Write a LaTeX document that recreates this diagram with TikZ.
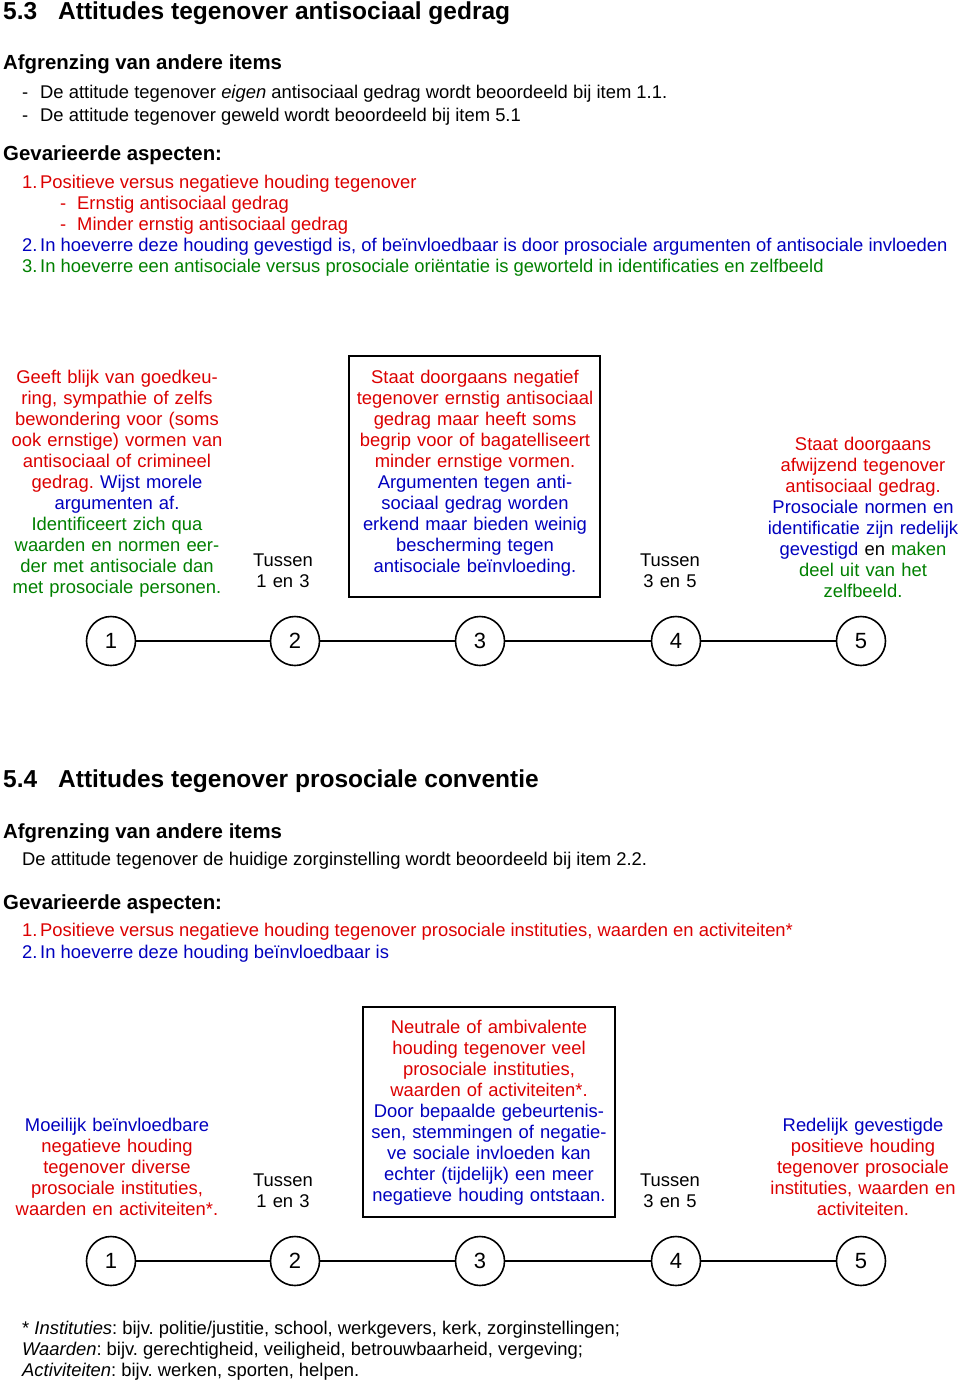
\documentclass[tikz,border=0pt]{standalone}
\usepackage{fontspec}
\setmainfont{Liberation Sans}
\usetikzlibrary{positioning}
\definecolor{rood}{RGB}{220,0,0}
\definecolor{blauw}{RGB}{0,0,190}
\definecolor{groen}{RGB}{0,128,0}
\setlength{\parindent}{0pt}
\frenchspacing

\begin{document}
\begin{tikzpicture}[x=1pt, y=-1pt,
    every node/.style={inner sep=0pt},
    titel/.style={anchor=base west, font=\fontsize{24.5}{28}\selectfont\bfseries},
    kop/.style={anchor=base west, font=\fontsize{20.4}{24}\selectfont\bfseries},
    regel/.style={anchor=base west, font=\fontsize{18.4}{21}\selectfont},
    omschr/.style={anchor=north, align=center, text width=250pt, font=\fontsize{18.4}{21}\selectfont},
    kader/.style={draw, line width=1.6pt},
    punt/.style={circle, draw, line width=1.6pt, minimum size=49pt, fill=white, font=\fontsize{22}{26}\selectfont},
    lijn/.style={line width=1.4pt}]
            \useasboundingbox[fill=white] (0,0) rectangle (960,1380);

            % 5.3
            \node[titel] at (3, 20)    (titel53) {\makebox[55pt][l]{5.3}Attitudes tegenover antisociaal gedrag};
            \node[kop]   at (3, 70)    (afgr53)  {Afgrenzing van andere items};
            \node[regel] at (22, 98.2)  (afgr53a) {\makebox[18pt][l]{-}De attitude tegenover \textit{eigen} antisociaal gedrag wordt beoordeeld bij item 1.1.};
            \node[regel] at (22, 121.2) (afgr53b) {\makebox[18pt][l]{-}De attitude tegenover geweld wordt beoordeeld bij item 5.1};
            \node[kop]   at (3, 160.8) (asp53)   {Gevarieerde aspecten:};
            \node[regel, rood]  at (22, 188.2) (asp53a) {\makebox[18pt][l]{1.}Positieve versus negatieve houding tegenover};
            \node[regel, rood]  at (60, 209.2) (asp53b) {\makebox[17pt][l]{-}Ernstig antisociaal gedrag};
            \node[regel, rood]  at (60, 230.2) (asp53c) {\makebox[17pt][l]{-}Minder ernstig antisociaal gedrag};
            \node[regel, blauw] at (22, 251.2) (asp53d) {\makebox[18pt][l]{2.}In hoeverre deze houding gevestigd is, of beïnvloedbaar is door prosociale argumenten of antisociale invloeden};
            \node[regel, groen] at (22, 272.2) (asp53e) {\makebox[18pt][l]{3.}In hoeverre een antisociale versus prosociale oriëntatie is geworteld in identificaties en zelfbeeld};

            \node[kader, minimum width=251pt, minimum height=241pt] at (474.5, 476.5) (box53) {};
            \node[omschr] at (117, 368.5) (tekst53a) {\strut\color{rood}Geeft blijk van goedkeu-\\ring, sympathie of zelfs\\bewondering voor (soms\\ook ernstige) vormen van\\antisociaal of crimineel\\gedrag. \color{blauw}Wijst morele\\argumenten af.\\\color{groen}Identificeert zich qua\\waarden en normen eer-\\der met antisociale dan\\met prosociale personen.};
            \node[omschr, text width=90pt] at (283, 551.5) (tekst53b) {\strut Tussen\\1 en 3};
            \node[omschr] at (475, 368.5) (tekst53c) {\strut\color{rood}Staat doorgaans negatief\\tegenover ernstig antisociaal\\gedrag maar heeft soms\\begrip voor of bagatelliseert\\minder ernstige vormen.\\\color{blauw}Argumenten tegen anti-\\sociaal gedrag worden\\erkend maar bieden weinig\\bescherming tegen\\antisociale beïnvloeding.};
            \node[omschr, text width=90pt] at (670, 551.5) (tekst53d) {\strut Tussen\\3 en 5};
            \node[omschr, text width=230pt] at (863, 435.5) (tekst53e) {\strut\color{rood}Staat doorgaans\\afwijzend tegenover\\antisociaal gedrag.\\\color{blauw}Prosociale normen en\\identificatie zijn redelijk\\gevestigd \color{black}en \color{groen}maken\\deel uit van het\\zelfbeeld.};

            \node[punt] at (111, 641) (p53a) {1};
            \node[punt] at (295, 641) (p53b) {2};
            \node[punt] at (480, 641) (p53c) {3};
            \node[punt] at (676, 641) (p53d) {4};
            \node[punt] at (861, 641) (p53e) {5};

            \draw [lijn] (p53a) -- (p53b);
            \draw [lijn] (p53b) -- (p53c);
            \draw [lijn] (p53c) -- (p53d);
            \draw [lijn] (p53d) -- (p53e);

            % 5.4
            \node[titel] at (3, 787)   (titel54) {\makebox[55pt][l]{5.4}Attitudes tegenover prosociale conventie};
            \node[kop]   at (3, 838)   (afgr54)  {Afgrenzing van andere items};
            \node[regel] at (22, 865.2) (afgr54a) {De attitude tegenover de huidige zorginstelling wordt beoordeeld bij item 2.2.};
            \node[kop]   at (3, 909.8) (asp54)   {Gevarieerde aspecten:};
            \node[regel, rood]  at (22, 936.2) (asp54a) {\makebox[18pt][l]{1.}Positieve versus negatieve houding tegenover prosociale instituties, waarden en activiteiten*};
            \node[regel, blauw] at (22, 958.2) (asp54b) {\makebox[18pt][l]{2.}In hoeverre deze houding beïnvloedbaar is};

            \node[kader, minimum width=252pt, minimum height=210pt] at (489, 1112) (box54) {};
            \node[omschr] at (117, 1116.5) (tekst54a) {\strut\color{blauw}Moeilijk beïnvloedbare\\\color{rood}negatieve houding\\tegenover diverse\\prosociale instituties,\\waarden en activiteiten*.};
            \node[omschr, text width=90pt] at (283, 1171.5) (tekst54b) {\strut Tussen\\1 en 3};
            \node[omschr] at (489, 1018.5) (tekst54c) {\strut\color{rood}Neutrale of ambivalente\\houding tegenover veel\\prosociale instituties,\\waarden of activiteiten*.\\\color{blauw}Door bepaalde gebeurtenis-\\sen, stemmingen of negatie-\\ve sociale invloeden kan\\echter (tijdelijk) een meer\\negatieve houding ontstaan.};
            \node[omschr, text width=90pt] at (670, 1171.5) (tekst54d) {\strut Tussen\\3 en 5};
            \node[omschr, text width=230pt] at (863, 1116.5) (tekst54e) {\strut\color{blauw}Redelijk gevestigde\\\color{rood}positieve houding\\tegenover prosociale\\instituties, waarden en\\activiteiten.};

            \node[punt] at (111, 1261) (p54a) {1};
            \node[punt] at (295, 1261) (p54b) {2};
            \node[punt] at (480, 1261) (p54c) {3};
            \node[punt] at (676, 1261) (p54d) {4};
            \node[punt] at (861, 1261) (p54e) {5};

            \draw [lijn] (p54a) -- (p54b);
            \draw [lijn] (p54b) -- (p54c);
            \draw [lijn] (p54c) -- (p54d);
            \draw [lijn] (p54d) -- (p54e);

            % voetnoot
            \node[regel] at (22, 1334.2) (noot1) {* \textit{Instituties}: bijv. politie/justitie, school, werkgevers, kerk, zorginstellingen;};
            \node[regel] at (22, 1355.2) (noot2) {\textit{Waarden}: bijv. gerechtigheid, veiligheid, betrouwbaarheid, vergeving;};
            \node[regel] at (22, 1376.2) (noot3) {\textit{Activiteiten}: bijv. werken, sporten, helpen.};
        \end{tikzpicture}
\end{document}
